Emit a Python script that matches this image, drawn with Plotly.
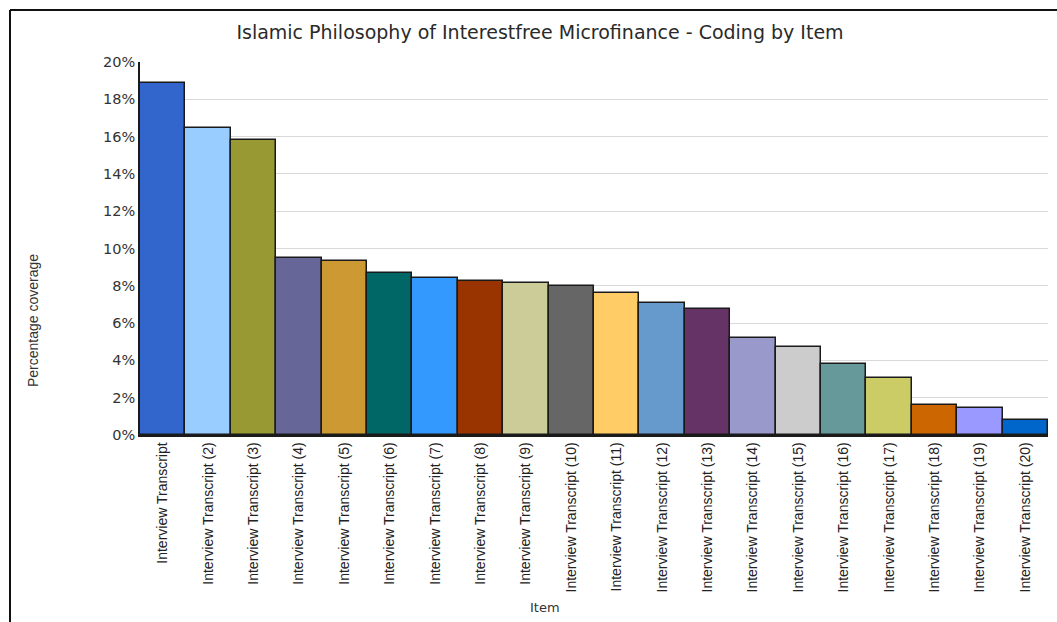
import plotly.graph_objects as go

categories = ["Interview Transcript"] + [f"Interview Transcript ({i})" for i in range(2, 21)]
values = [18.87, 16.46, 15.82, 9.49, 9.33, 8.69, 8.42, 8.26, 8.15, 7.99,
          7.61, 7.08, 6.76, 5.20, 4.72, 3.81, 3.04, 1.61, 1.45, 0.80]
colors = ["#3366CC", "#99CCFF", "#999933", "#666699", "#CC9933", "#006666", "#3399FF",
          "#993300", "#CCCC99", "#666666", "#FFCC66", "#6699CC", "#663366", "#9999CC",
          "#CCCCCC", "#669999", "#CCCC66", "#CC6600", "#9999FF", "#0066CC"]
y_ticks = [0, 2, 4, 6, 8, 10, 12, 14, 16, 18, 20]

W, H = 1057, 622
L, R, T, B = 140, 9, 62, 187

fig = go.Figure(go.Bar(
    x=categories, y=values,
    marker=dict(color=colors, line=dict(color="#1a1a1a", width=1.5)),
    hoverinfo="x+y",
))

pw = W - L - R
ph = H - T - B
def px_x(x):
    return (x - L) / pw
def px_y(y):
    return (H - B - y) / ph

fig.update_layout(
    width=W, height=H,
    margin=dict(l=L, r=R, t=T, b=B),
    paper_bgcolor="white", plot_bgcolor="white",
    bargap=0,
    showlegend=False,
    title=dict(text="Islamic Philosophy of Interestfree Microfinance - Coding by Item",
               x=540 / W, xanchor="center", y=1 - 32 / H, yanchor="middle",
               font=dict(family="DejaVu Sans, Verdana", size=19, color="#2a2a2a")),
    xaxis=dict(tickangle=-90, showgrid=False, showline=True, linecolor="#1a1a1a", linewidth=1.5,
               ticks="", tickfont=dict(family="Liberation Sans, Arial", size=14, color="#222222"),
               fixedrange=True),
    yaxis=dict(range=[0, 20], tickvals=y_ticks, ticktext=[f"{v}%" for v in y_ticks],
               showgrid=True, gridcolor="#d9d9d9", gridwidth=1,
               showline=True, linecolor="#1a1a1a", linewidth=1.5, ticks="",
               tickfont=dict(family="DejaVu Sans, Verdana", size=14.5, color="#333333"),
               zeroline=False, fixedrange=True),
    annotations=[
        dict(text="Item", xref="paper", yref="paper", x=px_x(545), y=px_y(607),
             showarrow=False, xanchor="center", yanchor="middle",
             font=dict(family="DejaVu Sans, Verdana", size=13, color="#333333")),
        dict(text="Percentage coverage", xref="paper", yref="paper", x=px_x(33), y=px_y(321),
             showarrow=False, textangle=-90, xanchor="center", yanchor="middle",
             font=dict(family="Liberation Sans, Arial", size=14, color="#333333")),
    ],
    shapes=[
        dict(type="line", xref="paper", yref="paper", x0=px_x(10), x1=px_x(1060),
             y0=px_y(10), y1=px_y(10), line=dict(color="#111111", width=2)),
        dict(type="line", xref="paper", yref="paper", x0=px_x(10), x1=px_x(10),
             y0=px_y(10), y1=px_y(625), line=dict(color="#111111", width=2)),
    ],
)

fig.write_html("out.html", config={"displayModeBar": False},
               post_script="document.body.style.margin='0';document.body.style.overflow='hidden';")
